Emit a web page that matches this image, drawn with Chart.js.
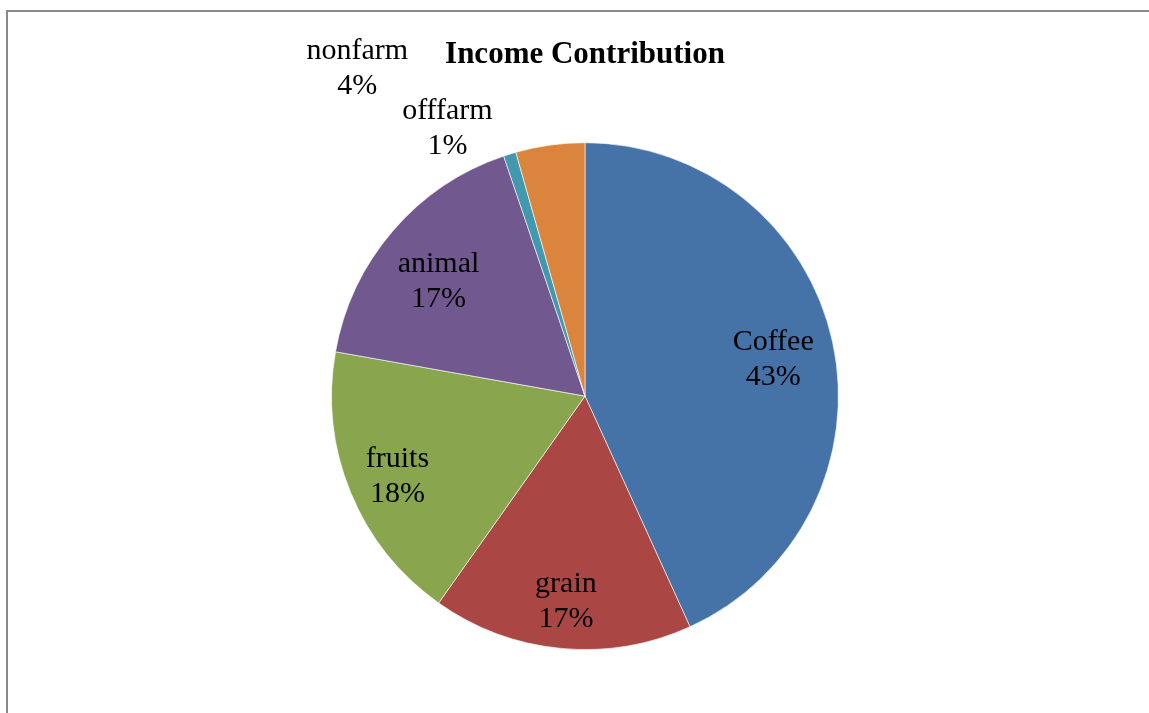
<!DOCTYPE html>
<html>
<head>
<meta charset="utf-8">
<script src="https://cdn.jsdelivr.net/npm/chart.js@4/dist/chart.umd.min.js"></script>
<style>
  html, body { margin: 0; padding: 0; background: #fff; overflow: hidden; }
  #frame { position: absolute; left: 6px; top: 10px; width: 1300px; height: 900px; border: 2px solid #8a8a8a; }
  #wrap { position: absolute; left: 0; top: 0; width: 1149px; height: 713px; }
</style>
</head>
<body>
<div id="frame"></div>
<div id="wrap"><canvas id="myChart"></canvas></div>
<script>
// income shares (%), clockwise from 12 o'clock
const categories = ['Coffee', 'grain', 'fruits', 'animal', 'offfarm', 'nonfarm'];
const shares = [43.2, 16.6, 18.0, 17.0, 0.8, 4.4];
const sliceColors = ['#4572A7', '#AA4643', '#89A54E', '#71588F', '#4198AF', '#DB843D'];

// where each label sits: r = fraction of the radius, a = angle (deg clockwise from top) when not centred
const labelSpots = [
    { r: 0.76 }, { r: 0.80 }, { r: 0.80 }, { r: 0.744, a: 309 },
    { r: 1.20, a: 333.1 }, { r: 1.586, a: 325.5 }
];

const pieLabels = {
    id: 'pieLabels',
    afterDatasetsDraw(chart) {
        const ctx = chart.ctx;
        const meta = chart.getDatasetMeta(0);
        const total = shares.reduce((s, v) => s + v, 0);
        ctx.save();
        ctx.font = '30px "Liberation Serif", "Times New Roman", serif';
        ctx.fillStyle = '#000';
        ctx.textAlign = 'center';
        ctx.textBaseline = 'middle';
        meta.data.forEach((arc, i) => {
            const p = arc.getProps(['x', 'y', 'startAngle', 'endAngle', 'outerRadius'], true);
            const spot = labelSpots[i];
            const ang = spot.a !== undefined ? (spot.a - 90) * Math.PI / 180 : (p.startAngle + p.endAngle) / 2;
            const x = p.x + Math.cos(ang) * p.outerRadius * spot.r;
            const y = p.y + Math.sin(ang) * p.outerRadius * spot.r + 4;
            const pct = Math.round(shares[i] / total * 100) + '%';
            ctx.fillText(categories[i], x, y - 17.5);
            ctx.fillText(pct, x, y + 17.5);
        });
        ctx.restore();
    }
};

const ctxPie = document.getElementById('myChart').getContext('2d');
const incomeChart = new Chart(ctxPie, {
    type: 'pie',
    data: {
        labels: categories,
        datasets: [{
            data: shares,
            backgroundColor: sliceColors,
            borderColor: 'rgba(255, 255, 255, 0.6)',
            borderWidth: 1
        }]
    },
    options: {
        responsive: true,
        maintainAspectRatio: false,
        animation: false,
        layout: {
            padding: { top: 0, bottom: 63, left: 331, right: 310 }
        },
        plugins: {
            legend: { display: false },
            tooltip: { enabled: false },
            title: {
                display: true,
                text: 'Income Contribution',
                color: '#000',
                font: { family: '"Liberation Serif", "Times New Roman", serif', size: 31, weight: 'bold', lineHeight: 1.2 },
                padding: { top: 36, bottom: 69 }
            }
        }
    },
    plugins: [pieLabels]
});
</script>
</body>
</html>
